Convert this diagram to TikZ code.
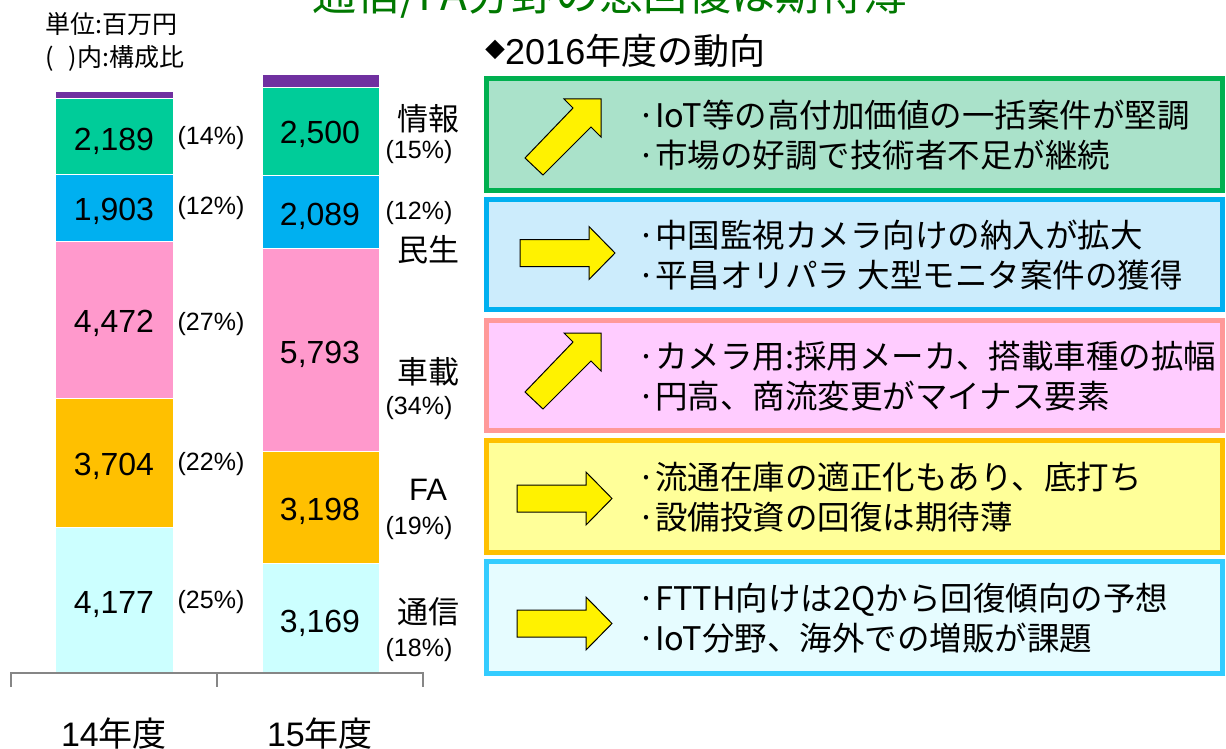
\documentclass[tikz,border=0pt]{standalone}
\usepackage{fontspec}
\setmainfont{Liberation Sans}
\newfontfamily\jp{Noto Sans CJK JP}
\definecolor{barpurple}{RGB}{112,48,160}
\definecolor{bargreen}{RGB}{0,204,153}
\definecolor{barblue}{RGB}{0,176,240}
\definecolor{barpink}{RGB}{255,153,204}
\definecolor{barorange}{RGB}{255,192,0}
\definecolor{barcyan}{RGB}{204,255,255}
\definecolor{titlegreen}{RGB}{0,120,0}
\definecolor{axisgray}{RGB}{134,134,134}
\definecolor{infoline}{RGB}{0,176,80}
\definecolor{infofill}{RGB}{170,226,202}
\definecolor{consline}{RGB}{0,176,240}
\definecolor{consfill}{RGB}{204,236,252}
\definecolor{autoline}{RGB}{255,153,153}
\definecolor{autofill}{RGB}{255,204,255}
\definecolor{faline}{RGB}{255,192,0}
\definecolor{fafill}{RGB}{255,255,153}
\definecolor{comline}{RGB}{51,204,255}
\definecolor{comfill}{RGB}{230,252,255}
\def\riseshape{(0,0) -- (-37,0) -- (-28,9) -- (-76,59) -- (-58,76) -- (-10,28) -- (0,38) -- cycle}
\def\flatshape{(0,-13.5) -- (69,-13.5) -- (69,-26.5) -- (95,0) -- (69,26.5) -- (69,13.5) -- (0,13.5) -- cycle}
\tikzset{
    val/.style={font=\fontsize{32}{32}\selectfont, inner sep=0pt, text height=23pt, text depth=0pt},
    pct/.style={font=\fontsize{25}{25}\selectfont, inner sep=0pt, text height=18.2pt, text depth=5.2pt},
    segname/.style={font=\jp\fontsize{31}{31}\selectfont, inner sep=0pt, text height=27.3pt, text depth=3.7pt},
    unit/.style={font=\jp\fontsize{25}{25}\selectfont, anchor=west, inner sep=0pt, text height=22pt, text depth=3pt},
    year/.style={font=\fontsize{34}{34}\selectfont, anchor=base, inner sep=0pt},
    panel/.style={line width=5pt},
    bigarrow/.style={fill=yellow, draw=black, line width=1pt},
    note/.style={font=\jp\fontsize{32.5}{40}\selectfont, align=left, anchor=west, inner sep=0pt}
}

\begin{document}
\begin{tikzpicture}[x=1pt,y=-1pt]
    \clip (0,0) rectangle (1226,749);
    \node[font=\jp\fontsize{44}{44}\selectfont, text=titlegreen, anchor=base] (title) at (610,11) {通信/FA分野の急回復は期待薄};
    \node[unit] (unit) at (45,24) {単位:百万円};
    \node[unit] (ratio) at (45,57) {(\hspace{15pt})内:構成比};
    % bars
    \foreach \t/\b/\c in {91/98/barpurple,98/174/bargreen,174/241/barblue,241/398/barpink,398/527/barorange,527/673/barcyan}
        \draw[fill=\c, draw=white, line width=0.75pt] (55,\t) rectangle (173,\b);
    \foreach \t/\b/\c in {74/87/barpurple,87/175/bargreen,175/248/barblue,248/451/barpink,451/563/barorange,563/673/barcyan}
        \draw[fill=\c, draw=white, line width=0.75pt] (262,\t) rectangle (379,\b);
    \draw[axisgray, line width=1.2pt] (11,687) -- (11,673) -- (423,673) -- (423,687) (217,673) -- (217,687);
    \node[val] (v14info) at (114,139) {2,189};
    \node[val] (v14cons) at (114,209) {1,903};
    \node[val] (v14auto) at (114,321) {4,472};
    \node[val] (v14fa) at (114,464) {3,704};
    \node[val] (v14com) at (114,602) {4,177};
    \node[val] (v15info) at (320,132.5) {2,500};
    \node[val] (v15cons) at (320,214) {2,089};
    \node[val] (v15auto) at (320,352) {5,793};
    \node[val] (v15fa) at (320,509) {3,198};
    \node[val] (v15com) at (320,621) {3,169};
    \node[pct] (p14info) at (211,138) {(14\%)};
    \node[pct] (p14cons) at (211,208) {(12\%)};
    \node[pct] (p14auto) at (211,324) {(27\%)};
    \node[pct] (p14fa) at (211,464) {(22\%)};
    \node[pct] (p14com) at (211,602) {(25\%)};
    \node[segname] (info) at (428,119) {情報};
    \node[pct] (p15info) at (419,152) {(15\%)};
    \node[pct] (p15cons) at (419,213) {(12\%)};
    \node[segname] (cons) at (428,250) {民生};
    \node[segname] (auto) at (428,372) {車載};
    \node[pct] (p15auto) at (419,408) {(34\%)};
    \node[segname, font=\fontsize{31}{31}\selectfont, text height=22.2pt, text depth=0pt] (fa) at (428,489) {FA};
    \node[pct] (p15fa) at (419,528) {(19\%)};
    \node[segname] (com) at (428,612) {通信};
    \node[pct] (p15com) at (419,650) {(18\%)};
    \node[year] (fy14) at (114,746) {14\jp 年度};
    \node[year] (fy15) at (320,746) {15\jp 年度};
    % trend panels
    \node[anchor=base west, inner sep=0pt, font=\fontsize{36}{36}\selectfont] (trend) at (485,65) {\jp\raisebox{7pt}{\fontsize{20}{20}\selectfont ◆}\rmfamily 2016\jp 年度の動向};
    \draw[panel, draw=infoline, fill=infofill] (486.5,78.5) rectangle (1222.5,190.5);
    \draw[panel, draw=consline, fill=consfill] (486.5,199.5) rectangle (1222.5,309.5);
    \draw[panel, draw=autoline, fill=autofill] (486.5,320.5) rectangle (1222.5,430.5);
    \draw[panel, draw=faline, fill=fafill] (486.5,440.5) rectangle (1222.5,552.5);
    \draw[panel, draw=comline, fill=comfill] (486.5,561.5) rectangle (1222.5,673.5);
    \draw[bigarrow, shift={(601,99)}] \riseshape;
    \draw[bigarrow, shift={(520,253)}] \flatshape;
    \draw[bigarrow, shift={(601,333)}] \riseshape;
    \draw[bigarrow, shift={(517,498.5)}] \flatshape;
    \draw[bigarrow, shift={(517,623.5)}] \flatshape;
    \node[note] (n1) at (637,135.5) {·IoT等の高付加価値の一括案件が堅調\\·市場の好調で技術者不足が継続};
    \node[note] (n2) at (637,255.5) {·中国監視カメラ向けの納入が拡大\\·平昌オリパラ 大型モニタ案件の獲得};
    \node[note] (n3) at (637,376.5) {·カメラ用:採用メーカ、搭載車種の拡幅\\·円高、商流変更がマイナス要素};
    \node[note] (n4) at (637,497.5) {·流通在庫の適正化もあり、底打ち\\·設備投資の回復は期待薄};
    \node[note] (n5) at (637,618.5) {·FTTH向けは2Qから回復傾向の予想\\·IoT分野、海外での増販が課題};
\end{tikzpicture}
\end{document}
